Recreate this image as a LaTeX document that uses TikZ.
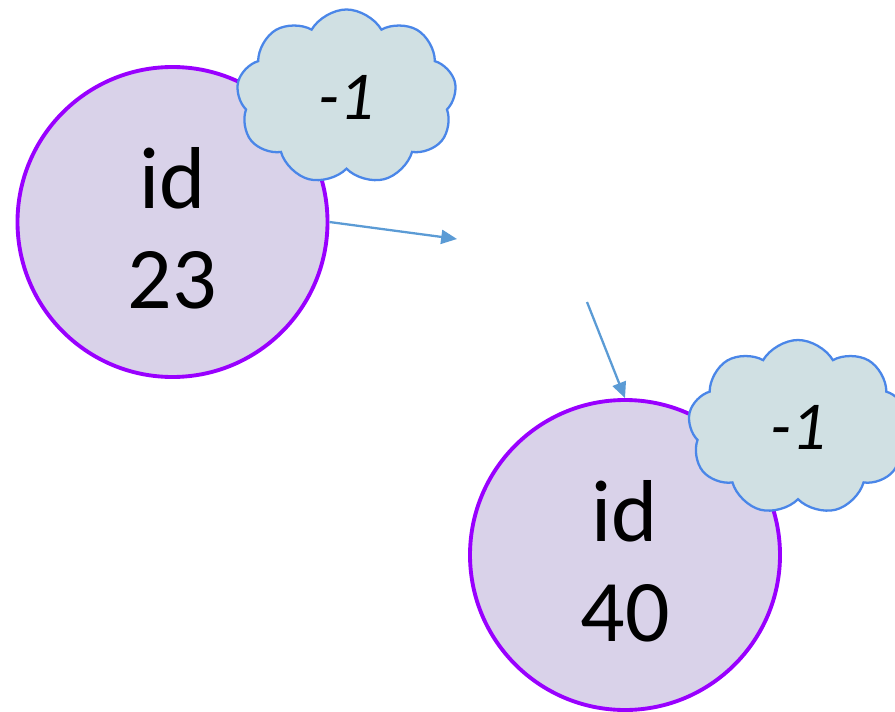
\documentclass[tikz,border=0pt]{standalone}
\usepackage{fontspec}
\setmainfont{Carlito}
\usepackage{xcolor}
\usetikzlibrary{positioning,shapes.symbols,arrows.meta}
\definecolor{idfill}{HTML}{D9D2E9}
\definecolor{idline}{HTML}{9900FF}
\definecolor{tagfill}{HTML}{D0E0E3}
\definecolor{tagline}{HTML}{4A86E8}
\definecolor{linkcol}{HTML}{5B9BD5}
\tikzset{
idnode/.style={circle, draw=idline, fill=idfill, line width=2.2pt, minimum size=6.2cm, inner sep=0pt, align=center, font=\fontsize{50}{57}\selectfont},
tagnode/.style={cloud, cloud puffs=9, cloud puff arc=120, cloud ignores aspect, draw=tagline, fill=tagfill, line width=1.3pt, minimum width=4.4cm, minimum height=3.5cm, inner sep=0pt, font=\fontsize{39}{42}\selectfont\itshape},
link/.style={draw=linkcol, line width=1.3pt, -{Triangle[length=9pt,width=8pt]}}
}
\begin{document}
\begin{tikzpicture}
\useasboundingbox (0,0) rectangle (17.9,14.22);
% the two ids
\node[idnode] (n23) at (3.45,9.78) {\rule{0pt}{42pt}id\\23};
\node[idnode] (n40) at (12.5,3.12) {\rule{0pt}{42pt}id\\40};
% their tags
\node[tagnode] (c23) at (6.93,12.28) {-1\hspace{0.34cm}};
\node[tagnode] (c40) at (15.96,5.67) {-1\hspace{0.34cm}};
% loose ends
\coordinate (p23) at (9.14,9.44);
\coordinate (p40) at (11.74,8.18);
\draw[link] (n23.east) -- (p23);
\draw[link] (p40) -- (n40.north);
\end{tikzpicture}
\end{document}
